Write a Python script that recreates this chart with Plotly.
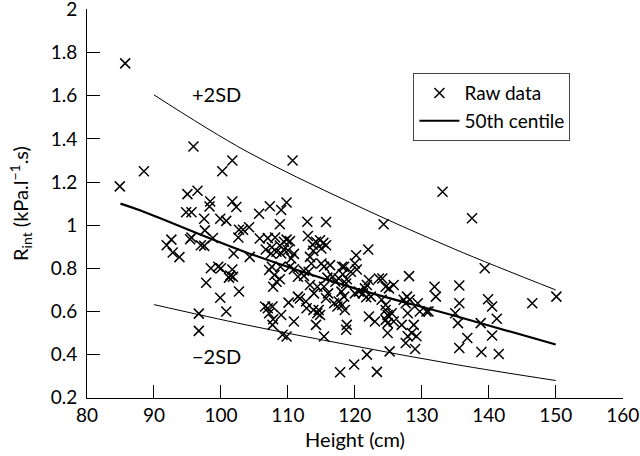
import plotly.graph_objects as go

# Raw data: height (cm) and Rint (kPa.l-1.s)
height = [85.7, 84.9, 88.5, 95.9, 101.7, 100.2, 110.7, 95.0, 96.5, 94.8, 95.6, 98.4, 98.3, 101.7, 102.3,
          97.5, 99.9, 100.8, 105.7, 107.3, 109.0, 109.8, 108.8, 112.9, 115.7, 124.3, 133.1, 137.5, 139.4,
          128.1, 122.0, 150.1, 146.5,
          91.9, 92.6, 92.8, 93.8, 95.6, 95.4, 97.0, 97.5, 97.6, 98.8, 98.5, 99.6, 100.0, 97.8, 99.9, 100.8,
          96.7, 96.7, 101.9, 101.7, 101.4, 101.8, 101.2, 102.7, 102.6, 102.7, 103.3, 104.2, 104.3, 105.8,
          106.7, 107.0, 107.6, 107.5, 108.1, 108.3, 108.8, 109.4, 109.8, 110.3, 110.0, 110.5, 110.9, 109.4,
          109.0, 107.6, 107.2, 108.0, 108.3, 108.8, 107.8, 108.9, 110.3, 110.9, 111.5, 112.4, 113.1, 113.0,
          113.7, 114.2, 114.8, 113.8, 113.3, 113.5, 115.7, 115.3, 115.0, 113.3, 113.9, 114.4, 115.0, 115.4,
          116.3, 115.9, 116.7, 117.1, 117.6, 118.1, 118.4, 118.2, 118.8, 118.7, 115.4, 116.0, 115.7, 116.9,
          117.6, 118.1, 118.4, 118.0, 117.4, 118.5, 118.8, 118.7, 115.4, 114.2, 114.4, 114.6, 114.8, 113.8,
          112.7, 112.8, 111.5, 110.1, 110.9, 109.0, 109.2, 109.8, 107.7, 107.8, 107.7, 107.0, 107.2, 106.6,
          119.4, 120.0, 120.2, 120.3, 120.0, 120.6, 121.2, 121.5, 121.8, 122.1, 121.7, 122.4, 122.1, 121.8,
          119.9, 117.8, 123.3, 123.0, 123.6, 124.1, 124.6, 125.1, 125.8, 124.6, 124.6, 124.9, 125.1, 124.6,
          124.9, 125.5, 125.8, 124.9, 125.2, 127.0, 127.3, 127.8, 127.6, 128.2, 127.9, 127.9, 127.6, 128.5,
          128.8, 129.0, 129.2, 129.4, 129.7, 130.7, 131.9, 132.1, 131.0, 135.0, 135.6, 135.6, 135.4, 135.6,
          136.8, 138.8, 138.9, 139.9, 140.5, 141.2, 140.5, 141.5, 124.0, 112.4, 111.8]
rint = [1.75, 1.18, 1.25, 1.365, 1.30, 1.25, 1.30, 1.144, 1.16, 1.06, 1.06, 1.11, 1.087, 1.11, 1.084,
        1.03, 1.03, 1.02, 1.053, 1.088, 1.07, 1.105, 1.004, 1.016, 1.015, 1.004, 1.155, 1.032, 0.80,
        0.764, 0.887, 0.669, 0.638,
        0.907, 0.933, 0.873, 0.852, 0.943, 0.935, 0.907, 0.904, 0.976, 0.941, 0.80, 0.807, 0.80, 0.733,
        0.664, 0.60, 0.59, 0.51, 0.869, 0.795, 0.767, 0.761, 0.757, 0.693, 0.943, 0.979, 0.979, 0.99,
        0.853, 0.938, 0.887, 0.94, 0.898, 0.869, 0.943, 0.877, 0.906, 0.887, 0.933, 0.926, 0.884, 0.846,
        0.867, 0.923, 0.869, 0.807, 0.792, 0.769, 0.738, 0.749, 0.715, 0.807, 0.807, 0.796, 0.761, 0.789,
        0.784, 0.95, 0.91, 0.923, 0.93, 0.881, 0.853, 0.822, 0.907, 0.918, 0.892, 0.723, 0.684, 0.715,
        0.822, 0.807, 0.815, 0.757, 0.761, 0.738, 0.753, 0.807, 0.807, 0.773, 0.749, 0.730, 0.715, 0.684,
        0.661, 0.638, 0.646, 0.63, 0.669, 0.692, 0.623, 0.607, 0.538, 0.515, 0.484, 0.538, 0.592, 0.607,
        0.584, 0.607, 0.646, 0.615, 0.669, 0.641, 0.554, 0.584, 0.492, 0.484, 0.538, 0.564, 0.623, 0.615,
        0.592, 0.623, 0.784, 0.822, 0.861, 0.795, 0.684, 0.692, 0.684, 0.707, 0.723, 0.746, 0.666, 0.669,
        0.577, 0.40, 0.354, 0.318, 0.32, 0.554, 0.753, 0.753, 0.715, 0.707, 0.723, 0.63, 0.607, 0.584,
        0.577, 0.561, 0.546, 0.592, 0.554, 0.50, 0.415, 0.538, 0.654, 0.669, 0.638, 0.654, 0.592, 0.485,
        0.454, 0.50, 0.538, 0.426, 0.485, 0.638, 0.60, 0.60, 0.715, 0.669, 0.60, 0.592, 0.72, 0.638,
        0.546, 0.431, 0.477, 0.546, 0.412, 0.657, 0.623, 0.566, 0.489, 0.403, 0.654, 0.765, 0.66]

# Reference curves
c50_height = [85, 87.9, 103.6, 119.25, 134.9, 150]
c50_value = [1.10, 1.069, 0.876, 0.714, 0.58, 0.447]
plus_height = [90, 103.6, 119.25, 134.9, 150]
plus_value = [1.604, 1.346, 1.106, 0.889, 0.70]
minus_height = [90, 103.6, 119.25, 134.9, 150]
minus_value = [0.632, 0.539, 0.444, 0.355, 0.28]

x_ticks = [80, 90, 100, 110, 120, 130, 140, 150, 160]
y_ticks = [0.2, 0.4, 0.6, 0.8, 1, 1.2, 1.4, 1.6, 1.8, 2]

FONT = "Lato, 'Noto Sans', sans-serif"

fig = go.Figure()
fig.add_trace(go.Scatter(x=plus_height, y=plus_value, mode="lines", line=dict(color="black", width=1, shape="spline"),
                         showlegend=False, hoverinfo="skip", cliponaxis=False))
fig.add_trace(go.Scatter(x=minus_height, y=minus_value, mode="lines", line=dict(color="black", width=1, shape="spline"),
                         showlegend=False, hoverinfo="skip", cliponaxis=False))
fig.add_trace(go.Scatter(x=height, y=rint, mode="markers", name="Raw data",
                         marker=dict(symbol="x-thin-open", size=10, color="black", line=dict(color="black", width=1.5))))
fig.add_trace(go.Scatter(x=c50_height, y=c50_value, mode="lines", name="50th centile",
                         line=dict(color="black", width=2.2, shape="spline")))

fig.add_annotation(x=99.3, y=1.608, text="+2SD", showarrow=False, font=dict(size=20, color="black", family=FONT))
fig.add_annotation(x=99.3, y=0.392, text="\u22122SD", showarrow=False, font=dict(size=20, color="black", family=FONT))

axis_common = dict(showline=True, linecolor="black", linewidth=1, ticks="inside", ticklen=13, tickwidth=1,
                   tickcolor="black", showgrid=False, zeroline=False, mirror=False, automargin=False,
                   ticklabeloverflow="allow",
                   tickfont=dict(size=19, color="black", family=FONT))

fig.update_xaxes(range=[80, 160.05], tickvals=x_ticks, ticktext=[str(v) for v in x_ticks],
                 title=dict(text="Height (cm)", font=dict(size=20, color="black", family=FONT), standoff=8),
                 **axis_common)
fig.update_yaxes(range=[0.199, 2.002], tickvals=y_ticks, ticktext=[("%g" % v) for v in y_ticks],
                 ticklabelstandoff=5,
                 title=dict(text="R<sub>int</sub> (kPa.l<sup>\u22121</sup>.s)", font=dict(size=20, color="black", family=FONT),
                            standoff=16),
                 **axis_common)

fig.update_layout(
    width=640, height=456,
    margin=dict(l=87, r=17, t=9, b=58),
    plot_bgcolor="white", paper_bgcolor="white",
    font=dict(family=FONT, color="black"),
    legend=dict(x=0.609, y=0.835, xanchor="left", yanchor="top", bgcolor="white",
                bordercolor="#444", borderwidth=1, font=dict(size=19, family=FONT, color="black"),
                tracegroupgap=0, itemwidth=40),
    showlegend=True,
)

fig.write_html("out.html", config={"displayModeBar": False},
               post_script="document.body.style.margin='0';document.body.style.overflow='hidden';")
